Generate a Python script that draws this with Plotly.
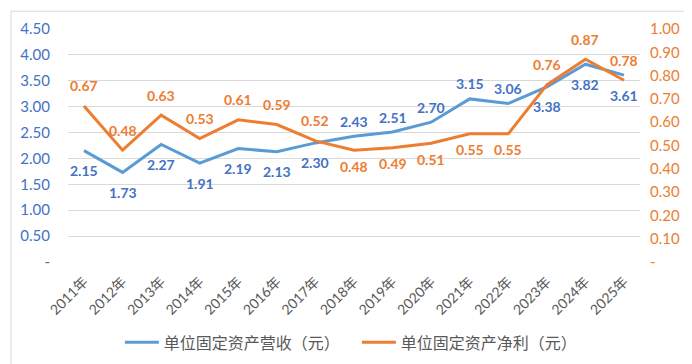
import plotly.graph_objects as go

years = ["2011年", "2012年", "2013年", "2014年", "2015年", "2016年", "2017年", "2018年",
         "2019年", "2020年", "2021年", "2022年", "2023年", "2024年", "2025年"]
revenue = [2.15, 1.73, 2.27, 1.91, 2.19, 2.13, 2.30, 2.43, 2.51, 2.70, 3.15, 3.06, 3.38, 3.82, 3.61]
profit = [0.67, 0.48, 0.63, 0.53, 0.61, 0.59, 0.52, 0.48, 0.49, 0.51, 0.55, 0.55, 0.76, 0.87, 0.78]
name_rev = "单位固定资产营收（元）"
name_pro = "单位固定资产净利（元）"
left_ticks = [0, 0.5, 1.0, 1.5, 2.0, 2.5, 3.0, 3.5, 4.0, 4.5]
right_ticks = [0, 0.1, 0.2, 0.3, 0.4, 0.5, 0.6, 0.7, 0.8, 0.9, 1.0]

# label placement (style): 1 = above, -1 = below
rev_side = [-1, -1, -1, -1, -1, -1, -1, 1, 1, 1, 1, 1, -1, -1, -1]
pro_side = [1, 1, 1, 1, 1, 1, 1, -1, -1, -1, -1, -1, 1, 1, 1]

BLUE_LINE = "#5B9BD5"
BLUE_TXT = "#4472C4"
ORANGE = "#ED7D31"
GRAY = "#595959"
FONT = "Lato, 'Noto Sans CJK SC', sans-serif"

def fmt(v):
    return "-" if v == 0 else f"{v:.2f}"

fig = go.Figure()
fig.add_trace(go.Scatter(x=years, y=revenue, name=name_rev, mode="lines",
                         line=dict(color=BLUE_LINE, width=3), yaxis="y"))
fig.add_trace(go.Scatter(x=years, y=profit, name=name_pro, mode="lines",
                         line=dict(color=ORANGE, width=3), yaxis="y2"))

annotations = []
for x, v, s in zip(years, revenue, rev_side):
    annotations.append(dict(x=x, y=v, xref="x", yref="y", text=f"{v:.2f}", showarrow=False,
                            yshift=15 if s > 0 else -20,
                            font=dict(family=FONT, size=14, color=BLUE_TXT, weight="bold")))
for x, v, s in zip(years, profit, pro_side):
    annotations.append(dict(x=x, y=v, xref="x", yref="y2", text=f"{v:.2f}", showarrow=False,
                            yshift=20 if s > 0 else -16,
                            font=dict(family=FONT, size=14, color=ORANGE, weight="bold")))

fig.update_layout(
    width=692, height=364,
    margin=dict(l=60, r=60, t=21, b=107),
    paper_bgcolor="white", plot_bgcolor="white",
    font=dict(family=FONT, color=GRAY),
    showlegend=True,
    legend=dict(orientation="h", x=0.505, xanchor="center", y=-0.345, yanchor="middle",
                font=dict(family=FONT, size=16, color=GRAY), itemwidth=34,
                entrywidth=188, entrywidthmode="pixels",
                traceorder="normal"),
    xaxis=dict(type="category", tickangle=-45, showgrid=False, showline=False, ticks="",
               tickfont=dict(family=FONT, size=14, color=GRAY), zeroline=False,
               ticklabelstandoff=8),
    yaxis=dict(range=[0, 4.5], tickvals=left_ticks, ticktext=[fmt(v) for v in left_ticks],
               showgrid=True, gridcolor="#D9D9D9", gridwidth=1, zeroline=False, showline=False,
               tickfont=dict(family=FONT, size=15, color=BLUE_TXT), ticks="",
               ticklabelstandoff=17),
    yaxis2=dict(range=[0, 1.0], tickvals=right_ticks, ticktext=[fmt(v) for v in right_ticks],
                overlaying="y", side="right", showgrid=False, zeroline=False, showline=False,
                tickfont=dict(family=FONT, size=15, color=ORANGE), ticks="",
                ticklabelstandoff=9),
    annotations=annotations,
    shapes=[dict(type="rect", xref="paper", yref="paper",
                 x0=-57 / 572, x1=628 / 572, y0=-105 / 236, y1=254 / 236,
                 line=dict(color="#D9D9D9", width=1), fillcolor="rgba(0,0,0,0)", layer="below")],
)

fig.write_html("out.html")
